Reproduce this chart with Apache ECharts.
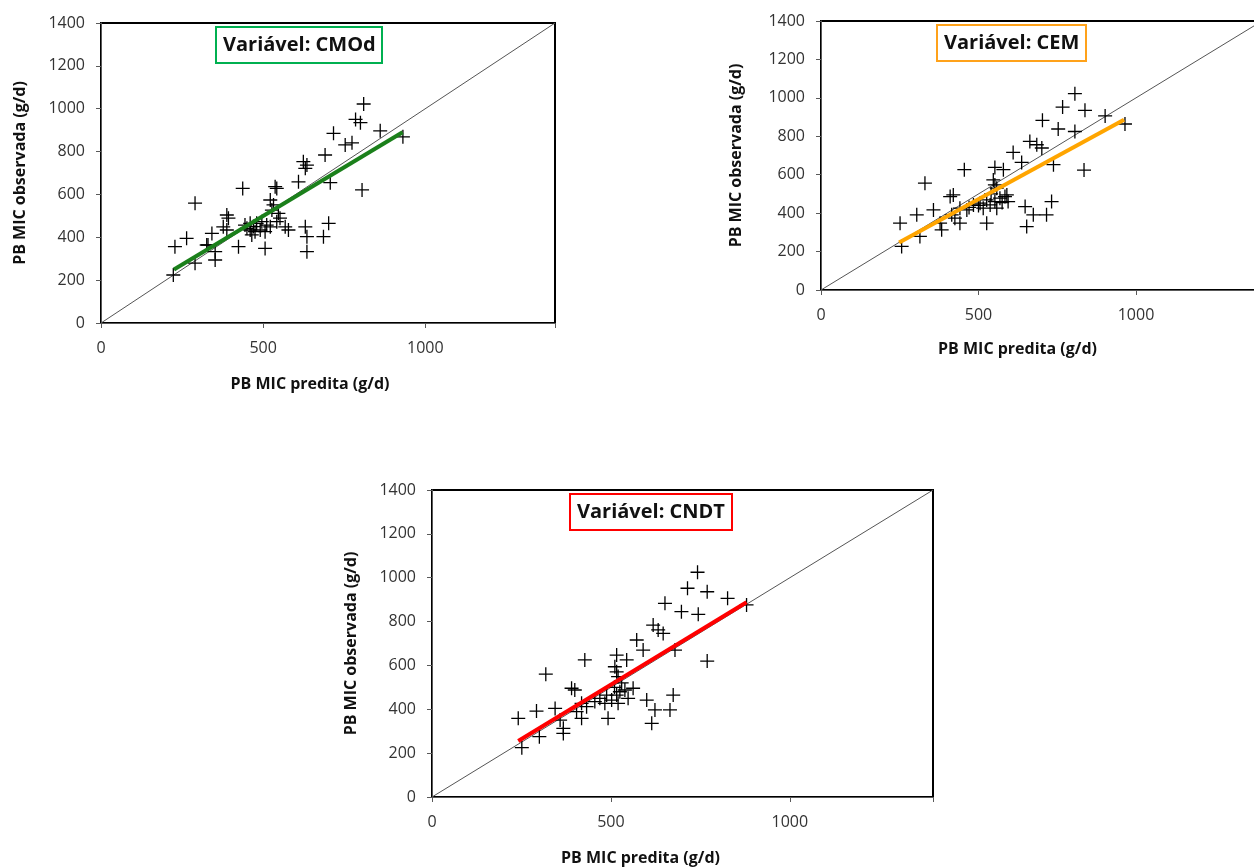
<!DOCTYPE html>
<html>
<head>
<meta charset="utf-8">
<script src="https://cdn.jsdelivr.net/npm/echarts@6/dist/echarts.min.js"></script>
<style>html,body{margin:0;padding:0;background:#fff}#c{width:1254px;height:868px}</style>
</head>
<body>
<div id="c"></div>
<script>
// ---- data ----
const axisTicks = [0, 200, 400, 600, 800, 1000, 1200, 1400];
const xTicks = [0, 500, 1000];
const titles = ['Variável: CMOd', 'Variável: CEM', 'Variável: CNDT'];
const xName = 'PB MIC predita (g/d)';
const yName = 'PB MIC observada (g/d)';
const identity = [[0, 0], [1400, 1400]];

const predCMOd = [810,785,800,861,717,753,774,931,691,624,635,630,609,707,805,437,537,542,290,522,532,527,547,388,393,377,342,264,228,326,352,352,290,223,424,506,460,470,460,475,465,480,496,511,506,491,542,552,568,578,522,630,702,635,686,635,444,450,388,330];
const obsCMOd  = [1022,950,935,897,885,831,841,869,784,753,737,722,659,655,621,628,636,628,559,574,551,527,512,504,489,449,418,395,356,364,333,294,279,224,356,348,465,450,434,426,411,465,473,457,426,434,473,489,449,434,449,449,465,403,403,333,457,442,434,364];
const fitCMOd = [[225, 250], [930, 890]];

const predCEM = [806,767,838,902,965,703,753,806,663,685,701,610,637,738,835,455,552,579,330,547,552,558,410,420,590,357,304,251,314,256,383,378,441,415,526,648,732,653,674,716,463,484,505,526,537,552,568,584,594,558,515,441,425,470,540,500,575];
const obsCEM  = [1022,952,935,906,864,883,838,825,773,756,739,716,664,652,624,626,638,626,556,573,547,530,486,495,495,417,391,348,279,227,313,348,348,391,348,434,460,330,391,391,417,443,452,469,443,460,478,486,460,426,426,426,374,430,500,440,455];
const fitCEM = [[248, 247], [962, 886]];

const predCNDT = [742,714,769,826,879,651,697,744,618,632,646,572,590,679,769,427,516,544,318,511,516,520,390,399,562,344,292,241,300,251,367,367,358,418,404,492,600,674,614,623,665,432,455,469,488,502,516,525,539,548,520,483,418,530,510];
const obsCNDT  = [1025,952,936,906,876,883,845,833,784,762,746,716,670,670,620,625,647,625,560,594,571,549,496,488,496,404,392,359,275,225,313,290,351,359,389,359,442,465,336,397,397,412,435,450,465,442,465,480,488,450,427,427,427,520,500];
const fitCNDT = [[241, 255], [879, 888]];

// ---- layout ----
const panels = [
  {grid:{left:101, top:23, width:454, height:300}, pred:predCMOd, obs:obsCMOd, fit:fitCMOd, color:'#1B801B', border:'#00B050',
   title:{left:216, top:27}, xPad:36, xGap:53, yGap:73},
  {grid:{left:821, top:21, width:441, height:269}, pred:predCEM, obs:obsCEM, fit:fitCEM, color:'#FFA500', border:'#FFA21A',
   title:{left:937, top:25}, xPad:48, xGap:51, yGap:77},
  {grid:{left:432, top:490, width:501, height:307}, pred:predCNDT, obs:obsCNDT, fit:fitCNDT, color:'#FF0000', border:'#FF0000',
   title:{left:570, top:494}, xPad:84, xGap:53, yGap:73}
];

const FONT = 'Open Sans';
const cross = 'path://M0,6L12,6M6,0L6,12';

const option = {
  animation: false,
  backgroundColor: '#fff',
  title: [], grid: [], xAxis: [], yAxis: [], series: []
};

panels.forEach((p, i) => {
  option.title.push({
    text: titles[i], left: p.title.left, top: p.title.top,
    borderColor: p.border, borderWidth: 2, padding: [8, 7, 8, 7],
    textStyle: {fontFamily: FONT, fontWeight: 'bold', fontSize: 20, color: '#111'}
  });
  option.grid.push(Object.assign({show: true, borderColor: '#000', borderWidth: 2, backgroundColor: '#fff',
    containLabel: false, outerBoundsMode: 'none'}, p.grid));
  option.xAxis.push({
    gridIndex: i, type: 'value', min: 0, max: 1400, interval: 500,
    name: xName, nameLocation: 'middle', nameGap: p.xGap,
    nameTextStyle: {fontFamily: FONT, fontWeight: 'bold', fontSize: 16, color: '#111', padding: [0, p.xPad, 0, 0]},
    axisLine: {show: true, onZero: false, lineStyle: {color: '#595959', width: 1}},
    axisTick: {show: true, length: 5, lineStyle: {color: '#595959'}},
    axisLabel: {fontFamily: FONT, fontSize: 16, color: '#333', margin: 17,
      formatter: v => xTicks.includes(v) ? String(v) : ''},
    splitLine: {show: false}
  });
  option.yAxis.push({
    gridIndex: i, type: 'value', min: 0, max: 1400, interval: 200,
    name: yName, nameLocation: 'middle', nameGap: p.yGap, nameRotate: 90,
    nameTextStyle: {fontFamily: FONT, fontWeight: 'bold', fontSize: 16, color: '#111'},
    axisLine: {show: true, onZero: false, lineStyle: {color: '#595959', width: 1}},
    axisTick: {show: true, length: 5, lineStyle: {color: '#595959'}},
    axisLabel: {fontFamily: FONT, fontSize: 16, color: '#333', margin: 16,
      formatter: v => axisTicks.includes(v) ? String(v) : ''},
    splitLine: {show: false}
  });
  option.series.push({
    type: 'line', xAxisIndex: i, yAxisIndex: i, data: identity,
    showSymbol: false, silent: true, z: 1,
    lineStyle: {color: '#555', width: 1}
  });
  option.series.push({
    type: 'scatter', xAxisIndex: i, yAxisIndex: i,
    data: p.pred.map((x, k) => [x, p.obs[k]]),
    symbol: cross, symbolSize: 14, silent: true, z: 2,
    itemStyle: {color: 'none', borderColor: '#000', borderWidth: 1.3, opacity: 1}
  });
  option.series.push({
    type: 'line', xAxisIndex: i, yAxisIndex: i, data: p.fit,
    showSymbol: false, silent: true, z: 3,
    lineStyle: {color: p.color, width: 4}
  });
});

const chart = echarts.init(document.getElementById('c'), null, {renderer: 'canvas'});
chart.setOption(option);
</script>
</body>
</html>
